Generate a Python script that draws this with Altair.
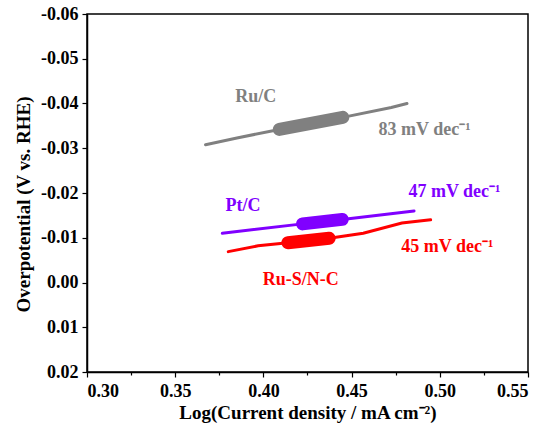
import altair as alt
import pandas as pd

# Thin Tafel curves (x = log current density, y = overpotential)
gray_x = [0.3672, 0.385, 0.409, 0.445, 0.4725, 0.4814]
gray_y = [-0.0308, -0.0323, -0.0342, -0.0369, -0.0391, -0.0400]
purple_x = [0.3767, 0.4222, 0.4447, 0.4854]
purple_y = [-0.0110, -0.0131, -0.0141, -0.0160]
red_x = [0.3801, 0.397, 0.4139, 0.4373, 0.4566, 0.4785, 0.4948]
red_y = [-0.0069, -0.0082, -0.0089, -0.0099, -0.0110, -0.0133, -0.0140]

# Thick fitted segments
fit_gray_x = [0.409, 0.445]
fit_gray_y = [-0.0342, -0.0369]
fit_purple_x = [0.4222, 0.4447]
fit_purple_y = [-0.0131, -0.0141]
fit_red_x = [0.4139, 0.4373]
fit_red_y = [-0.0089, -0.0099]

series = ["Ru/C", "Pt/C", "Ru-S/N-C"]
colors = ["#808080", "#8000ff", "#ff0000"]

label_text = ["Ru/C", "83 mV dec\u207b\u00b9", "Pt/C", "47 mV dec\u207b\u00b9",
              "Ru-S/N-C", "45 mV dec\u207b\u00b9"]
label_series = ["Ru/C", "Ru/C", "Pt/C", "Pt/C", "Ru-S/N-C", "Ru-S/N-C"]
label_x = [0.3956, 0.4914, 0.3884, 0.5083, 0.4212, 0.5043]
label_y = [-0.0415, -0.0340, -0.0172, -0.0202, -0.0006, -0.0079]

x_ticks = [0.30, 0.325, 0.35, 0.375, 0.40, 0.425, 0.45, 0.475, 0.50, 0.525, 0.55]
y_ticks = [-0.06, -0.055, -0.05, -0.045, -0.04, -0.035, -0.03, -0.025, -0.02,
           -0.015, -0.01, -0.005, 0.0, 0.005, 0.01, 0.015, 0.02]

def frame(name, xs, ys):
    return pd.DataFrame({"series": name, "x": xs, "y": ys, "order": range(len(xs))})

thin = pd.concat([frame("Ru/C", gray_x, gray_y),
                  frame("Pt/C", purple_x, purple_y),
                  frame("Ru-S/N-C", red_x, red_y)])
thick = pd.concat([frame("Ru/C", fit_gray_x, fit_gray_y),
                   frame("Pt/C", fit_purple_x, fit_purple_y),
                   frame("Ru-S/N-C", fit_red_x, fit_red_y)])
labels = pd.DataFrame({"text": label_text, "series": label_series,
                       "x": label_x, "y": label_y})

FONT = "Liberation Serif"

x_major = "abs(datum.value*20 - round(datum.value*20)) < 0.001"
y_major = "abs(datum.value*100 - round(datum.value*100)) < 0.001"

x_enc = alt.X("x:Q", scale=alt.Scale(domain=[0.30, 0.55], nice=False, zero=False),
              axis=alt.Axis(values=x_ticks, grid=False,
                            title="Log(Current density / mA cm\u207b\u00b2)",
                            labelExpr=f"{x_major} ? format(datum.value, '.2f') : ''",
                            tickSize={"condition": {"test": x_major, "value": 5}, "value": 3},
                            labelPadding=5, titlePadding=3))
y_enc = alt.Y("y:Q", scale=alt.Scale(domain=[-0.06, 0.02], reverse=True, nice=False, zero=False),
              axis=alt.Axis(values=y_ticks, grid=False,
                            title="Overpotential (V vs. RHE)",
                            labelExpr=f"{y_major} ? replace(format(datum.value, '.2f'), '\u2212', '-') : ''",
                            tickSize={"condition": {"test": y_major, "value": 5}, "value": 3},
                            labelPadding=4, titleX=-64, titleY=190, titleBaseline="middle"))
color_enc = alt.Color("series:N", scale=alt.Scale(domain=series, range=colors), legend=None)

thin_layer = alt.Chart(thin).mark_line(strokeWidth=3, strokeCap="round").encode(
    x=x_enc, y=y_enc, color=color_enc, detail="series:N", order="order:Q")
thick_layer = alt.Chart(thick).mark_line(strokeWidth=13, strokeCap="round").encode(
    x="x:Q", y="y:Q", color=color_enc, detail="series:N", order="order:Q")
text_layer = alt.Chart(labels).mark_text(font=FONT, fontSize=18, fontWeight="bold").encode(
    x="x:Q", y="y:Q", text="text:N", color=color_enc)

chart = alt.layer(thin_layer, thick_layer, text_layer).properties(
    width=441, height=358,
    autosize=alt.AutoSizeParams(type="none"),
    padding={"left": 87, "top": 14, "right": 21, "bottom": 62},
).configure_view(stroke="black", strokeWidth=1.5).configure_axis(
    domainColor="black", domainWidth=1.5, tickColor="black", tickWidth=1.2,
    labelFont=FONT, labelFontSize=18, labelFontWeight="bold", labelColor="black",
    titleFont=FONT, titleFontSize=19, titleFontWeight="bold", titleColor="black",
)

chart.save("out.html", embed_options={"renderer": "svg", "actions": False})
